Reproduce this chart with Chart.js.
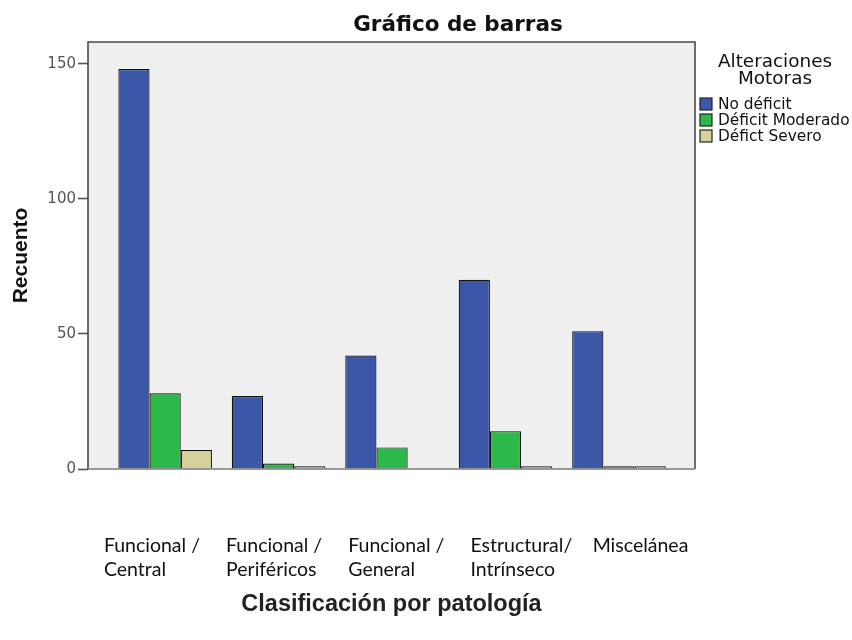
<!DOCTYPE html>
<html>
<head>
<meta charset="utf-8">
<script src="https://cdn.jsdelivr.net/npm/chart.js@4.4.1/dist/chart.umd.min.js"></script>
<style>
  html, body { margin: 0; padding: 0; background: #ffffff; }
  #wrap { width: 852px; height: 640px; position: relative; }
</style>
</head>
<body>
<div id="wrap"><canvas id="c" width="852" height="640"></canvas></div>
<script>
// Counts per pathology class, split by motor impairment level
const chartTitle = 'Gráfico de barras';
const xTitle = 'Clasificación por patología';
const yTitle = 'Recuento';
const legendTitle = ['Alteraciones', 'Motoras'];
const categories = [
  ['Funcional /', 'Central'],
  ['Funcional /', 'Periféricos'],
  ['Funcional /', 'General'],
  ['Estructural/', 'Intrínseco'],
  ['Miscelánea']
];
const seriesNames = ['No déficit', 'Déficit Moderado', 'Défict Severo'];
const noDeficit = [148, 27, 42, 70, 51];
const deficitModerado = [28, 2, 8, 14, 1];
const deficitSevero = [7, 1, 0, 1, 1];
const yTicks = [0, 50, 100, 150];

const seriesColors = ['#3c56a8', '#2db84a', '#d6d09a'];
const seriesValues = [noDeficit, deficitModerado, deficitSevero];

// Category labels sit on their own, slightly wider grid below the plot
const LABEL_START = -0.54;
const LABEL_STEP = 1.077;

const datasets = seriesNames.map((name, s) => ({
  label: name,
  data: seriesValues[s].map((v, i) => ({ x: i, y: v })),
  backgroundColor: seriesColors[s],
  borderColor: '#111111',
  borderWidth: 1.2,
  categoryPercentage: 0.825,
  barPercentage: 1.0
}));

const spssFrame = {
  id: 'spssFrame',
  beforeDraw(chart) {
    const { ctx, chartArea: a } = chart;
    ctx.save();
    ctx.fillStyle = '#efefef';
    ctx.fillRect(a.left, a.top, a.right - a.left, a.bottom - a.top);
    ctx.restore();
  },
  afterDatasetsDraw(chart) {
    const { ctx, chartArea: a } = chart;
    ctx.save();
    ctx.lineWidth = 1.6;
    ctx.strokeStyle = '#4a4a4a';
    ctx.beginPath();
    ctx.moveTo(a.left, a.bottom);
    ctx.lineTo(a.left, a.top);
    ctx.lineTo(a.right, a.top);
    ctx.lineTo(a.right, a.bottom);
    ctx.stroke();
    ctx.strokeStyle = '#7a7a7a';
    ctx.beginPath();
    ctx.moveTo(a.left, a.bottom);
    ctx.lineTo(a.right, a.bottom);
    ctx.stroke();
    ctx.restore();
  },
  afterDraw(chart) {
    const { ctx } = chart;
    ctx.save();
    // chart title
    ctx.fillStyle = '#111111';
    ctx.textAlign = 'center';
    ctx.textBaseline = 'middle';
    ctx.font = 'bold 21.5px "DejaVu Sans"';
    ctx.fillText(chartTitle, 458, 25);

    // legend
    ctx.font = '18.4px "DejaVu Sans"';
    legendTitle.forEach((t, i) => ctx.fillText(t, 775, 62 + i * 17));
    ctx.textAlign = 'left';
    ctx.font = '15.4px "DejaVu Sans"';
    chart.data.datasets.forEach((ds, i) => {
      const y = 104 + i * 16;
      ctx.fillStyle = ds.backgroundColor;
      ctx.fillRect(700, y - 6, 12, 12);
      ctx.strokeStyle = '#222222';
      ctx.lineWidth = 1.2;
      ctx.strokeRect(700, y - 6, 12, 12);
      ctx.fillStyle = '#111111';
      ctx.fillText(ds.label, 718, y + 1);
    });
    ctx.restore();
  }
};

new Chart(document.getElementById('c'), {
  type: 'bar',
  data: { datasets },
  options: {
    responsive: false,
    animation: false,
    devicePixelRatio: 1,
    layout: { padding: { top: 42, right: 157, bottom: 0, left: 0 } },
    plugins: {
      legend: { display: false },
      title: { display: false },
      tooltip: { enabled: false }
    },
    scales: {
      x: {
        type: 'linear',
        offset: false,
        bounds: 'data',
        min: -0.68,
        max: 4.67,
        afterBuildTicks(scale) {
          scale.ticks = categories.map((c, i) => ({ value: LABEL_START + i * LABEL_STEP }));
        },
        afterFit(scale) { scale.height = 171; },
        grid: { display: false, offset: false },
        border: { display: false },
        ticks: {
          autoSkip: false,
          maxRotation: 0,
          align: 'start',
          padding: 57,
          color: '#111111',
          font: { family: 'Lato', size: 19.5, lineHeight: 1.23 },
          callback: (v, i) => categories[i]
        },
        title: {
          display: true,
          text: xTitle,
          color: '#222222',
          font: { family: 'Liberation Sans', size: 23.5, weight: 'bold', lineHeight: 1.2 },
          padding: { top: 0, bottom: 21 }
        }
      },
      y: {
        min: 0,
        max: 158,
        afterBuildTicks(scale) {
          scale.ticks = yTicks.map(v => ({ value: v }));
        },
        afterFit(scale) { scale.width = 88; },
        grid: {
          drawOnChartArea: false,
          drawTicks: true,
          tickLength: 10,
          tickColor: '#555555',
          tickWidth: 1.6
        },
        border: { display: false },
        ticks: {
          padding: 2,
          color: '#555555',
          font: { family: 'DejaVu Sans', size: 15 }
        },
        title: {
          display: true,
          text: yTitle,
          color: '#111111',
          font: { family: 'Liberation Sans', size: 21, weight: 'bold', lineHeight: 1.2 },
          padding: { top: 9, bottom: 0 }
        }
      }
    }
  },
  plugins: [spssFrame]
});
</script>
</body>
</html>
